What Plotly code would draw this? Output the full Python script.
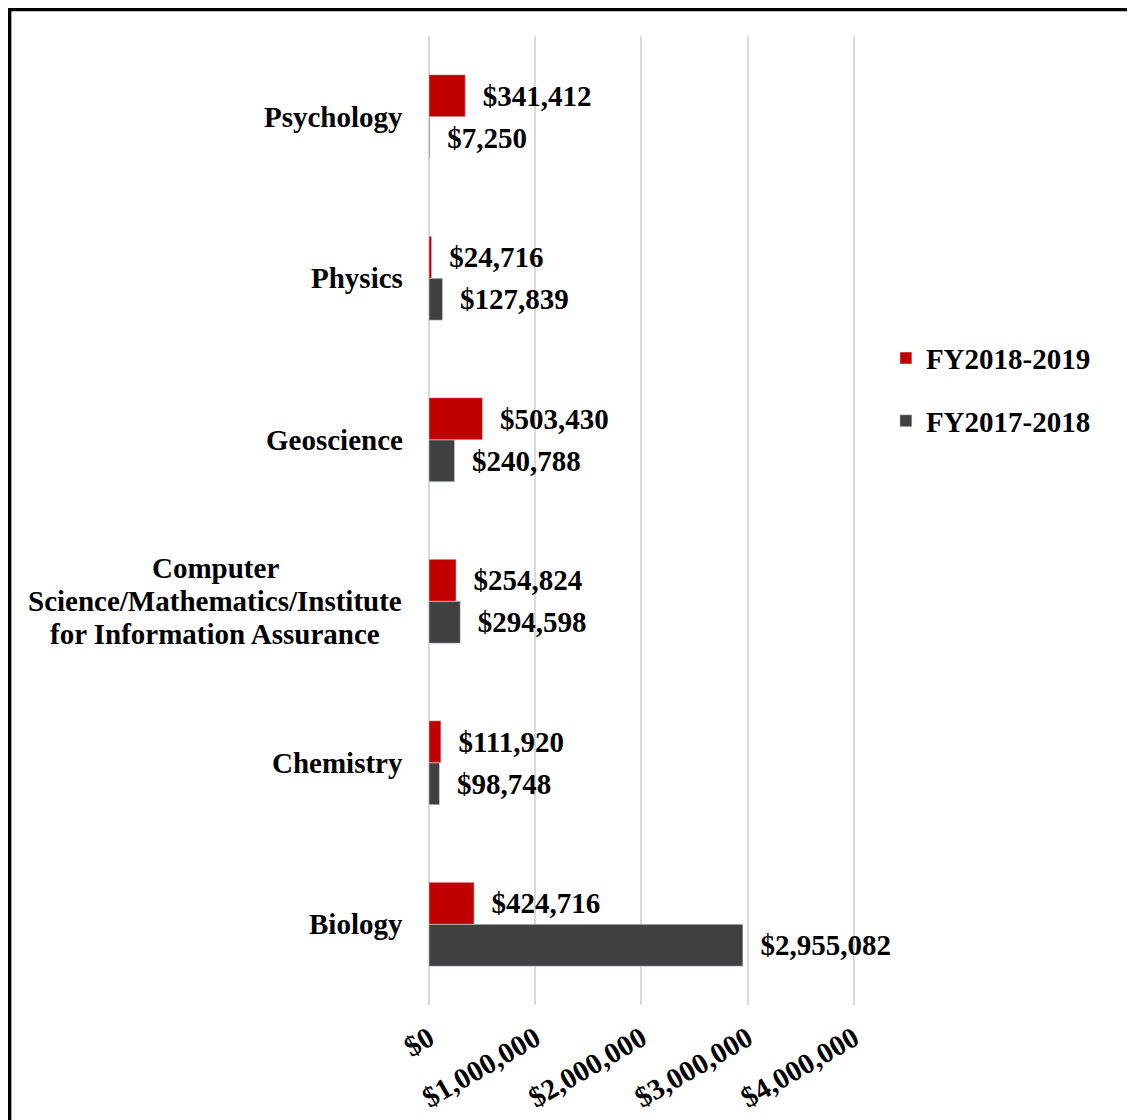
import plotly.graph_objects as go

categories = ["Biology", "Chemistry",
              "Computer<br>Science/Mathematics/Institute<br>for Information Assurance",
              "Geoscience", "Physics", "Psychology"]
fy2018_2019 = [424716, 111920, 254824, 503430, 24716, 341412]
fy2017_2018 = [2955082, 98748, 294598, 240788, 127839, 7250]
tick_vals = [0, 1000000, 2000000, 3000000, 4000000]
tick_text = ["$0", "$1,000,000", "$2,000,000", "$3,000,000", "$4,000,000"]

FONT = "Liberation Serif"
FS = 29
NB = "\u00a0\u00a0"

fig = go.Figure()
fig.add_trace(go.Bar(
    y=list(range(len(categories))), x=fy2017_2018, orientation="h",
    name="FY2017-2018", marker_color="#404040", legendgroup="b", legendrank=2,
    text=[f"{NB}${v:,}" for v in fy2017_2018], textposition="outside",
    cliponaxis=False, constraintext="none",
    textfont=dict(family=FONT, size=FS, color="black", weight="bold"),
))
fig.add_trace(go.Bar(
    y=list(range(len(categories))), x=fy2018_2019, orientation="h",
    name="FY2018-2019", marker_color="#C00000", legendgroup="a", legendrank=1,
    text=[f"{NB}${v:,}" for v in fy2018_2019], textposition="outside",
    cliponaxis=False, constraintext="none",
    textfont=dict(family=FONT, size=FS, color="black", weight="bold"),
))

annotations = []
line_h = 33
for i, cat in enumerate(categories):
    lines = cat.split("<br>")
    n = len(lines)
    for j, ln in enumerate(lines):
        annotations.append(dict(
            x=0, xref="paper", y=i, yref="y", text=ln, showarrow=False,
            xanchor="right" if n == 1 else "center",
            xshift=-24 if n == 1 else (215 - 429),
            yshift=((n - 1) / 2 - j) * line_h,
            font=dict(family=FONT, size=FS, color="black", weight="bold"),
        ))

# page has an 8px body margin: figure origin sits at page (8, 8)
W, H = 1127, 1112
L, T = 421, 28
XMAX = 4020000
PW = 425 * XMAX / 4000000
PH = 969

fig.update_layout(
    width=W, height=H,
    margin=dict(l=L, r=W - L - PW, t=T, b=H - T - PH),
    paper_bgcolor="white", plot_bgcolor="white",
    font=dict(family=FONT, size=FS, color="black", weight="bold"),
    barmode="group", bargap=0.48, bargroupgap=0,
    showlegend=True,
    legend=dict(x=1.07, xanchor="left", y=0.635, yanchor="middle",
                traceorder="grouped", tracegroupgap=22,
                font=dict(family=FONT, size=FS, color="black", weight="bold"),
                itemwidth=30, bgcolor="rgba(0,0,0,0)"),
    xaxis=dict(range=[0, XMAX], tickvals=tick_vals, ticktext=tick_text,
               tickangle=-30, showgrid=True, gridcolor="#D9D9D9", gridwidth=1.5,
               zeroline=True, zerolinecolor="#D9D9D9", zerolinewidth=1.5,
               showline=False, ticks="", ticklabelstandoff=10, automargin=False,
               tickfont=dict(family=FONT, size=FS, color="black", weight="bold")),
    yaxis=dict(range=[-0.5, 5.5], showticklabels=False, showgrid=False,
               zeroline=False, showline=False, ticks="", automargin=False),
    annotations=annotations,
    shapes=[dict(type="rect", xref="paper", yref="paper",
                 x0=(1.5 - L) / PW, x1=(W + 20 - L) / PW,
                 y0=(T + PH - (H + 20)) / PH, y1=(T + PH - 1.5) / PH,
                 line=dict(color="black", width=3.5), layer="above")],
)

fig.write_html("out.html")
